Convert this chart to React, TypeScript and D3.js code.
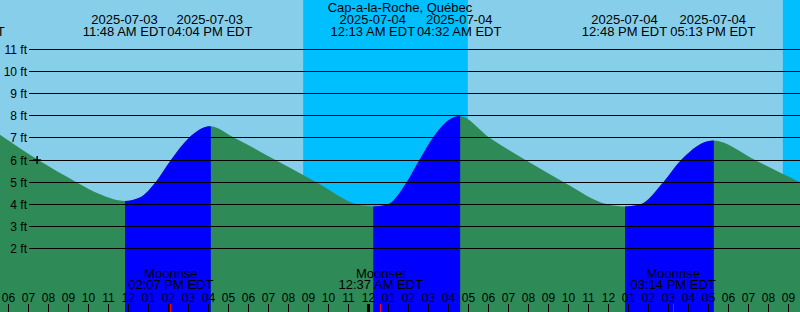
import React from 'react';
import * as d3 from 'd3';

const W = 800;
const H = 312;

const title = 'Cap-a-la-Roche, Québec';

// Tide high/low events
const tideEventDates = ['2025-07-03', '2025-07-03', '2025-07-03', '2025-07-04', '2025-07-04', '2025-07-04', '2025-07-04'];
const tideEventTimes = ['03:42 AM', '11:48 AM', '04:04 PM', '12:13 AM', '04:32 AM', '12:48 PM', '05:13 PM'];
const tideEventKinds = ['high', 'low', 'high', 'low', 'high', 'low', 'high'];

// Tide curve samples (hours since 2025-07-03 00:00 EDT, feet)
const curveHours = [5.575, 7.49, 9.4, 10.575, 11.8, 12.59, 13.355, 14.12, 15.015, 16.067, 17.31, 19.35, 21.39, 23.43, 24.217, 24.96, 25.905, 26.545, 27.21, 28.533, 30.065, 31.85, 33.765, 35.93, 36.8, 37.59, 38.74, 39.63, 41.217, 43.33, 44.72, 45.575];
const curveFeet = [7.15, 6.0, 5.0, 4.45, 4.15, 4.32, 5.0, 6.0, 7.0, 7.53, 7.0, 6.0, 5.0, 4.0, 3.9, 4.0, 5.0, 6.0, 7.0, 7.99, 7.0, 6.0, 5.0, 4.0, 3.9, 4.0, 5.0, 6.0, 6.88, 6.0, 5.37, 5.0];

// Current time marker
const nowDate = '2025-07-03';
const nowTime = '07:26 AM';
const nowFeet = 6.0;

// Moon events
const moonEventNames = ['Moonrise', 'Moonset', 'Moonrise'];
const moonEventDates = ['2025-07-03', '2025-07-04', '2025-07-04'];
const moonEventTimes = ['02:07 PM', '12:37 AM', '03:14 PM'];

// Night intervals (sunset -> sunrise)
const nightStartDates = ['2025-07-03', '2025-07-04'];
const nightStartTimes = ['08:44 PM', '08:43 PM'];
const nightEndDates = ['2025-07-04', '2025-07-05'];
const nightEndTimes = ['04:58 AM', '04:58 AM'];

const depthTicks = [2, 3, 4, 5, 6, 7, 8, 9, 10, 11];
const hourTicks = d3.range(6, 46);

const FONT = '"Liberation Sans", Arial, Helvetica, sans-serif';

function toHours(date: string, time: string): number {
  const day = +date.slice(8, 10) - 3;
  const [hm, ap] = time.split(' ');
  let [h, m] = hm.split(':').map(Number);
  if (ap === 'PM' && h !== 12) h += 12;
  if (ap === 'AM' && h === 12) h = 0;
  return day * 24 + h + m / 60;
}

function hourLabel(h: number): string {
  const hh = h % 12 === 0 ? 12 : h % 12;
  return String(hh).padStart(2, '0');
}

export default function App() {
  const x = d3.scaleLinear().domain([5.575, 45.575]).range([0, W]);
  const y = d3.scaleLinear().domain([-0.872, 13.239]).range([H, 0]);

  const pts: [number, number][] = curveHours.map((h, i) => [h, curveFeet[i]]);
  const area = d3
    .area<[number, number]>()
    .x((d) => x(d[0]))
    .y0(H)
    .y1((d) => y(d[1]))
    .curve(d3.curveMonotoneX);
  const areaPath = area(pts) || '';

  const events = tideEventDates.map((d, i) => ({
    date: d,
    time: tideEventTimes[i],
    kind: tideEventKinds[i],
    h: toHours(d, tideEventTimes[i]),
  }));

  const floods: { a: number; b: number }[] = [];
  for (let i = 0; i < events.length - 1; i++) {
    if (events[i].kind === 'low' && events[i + 1].kind === 'high') {
      floods.push({ a: events[i].h, b: events[i + 1].h });
    }
  }

  const nights = nightStartDates.map((d, i) => ({
    a: toHours(d, nightStartTimes[i]),
    b: toHours(nightEndDates[i], nightEndTimes[i]),
  }));

  const moons = moonEventNames.map((n, i) => ({
    name: n,
    time: moonEventTimes[i],
    h: toHours(moonEventDates[i], moonEventTimes[i]),
  }));

  const nowX = x(toHours(nowDate, nowTime));
  const nowY = y(nowFeet);

  return (
    <svg
      width={W}
      height={H}
      style={{ position: 'absolute', left: 0, top: 0, display: 'block' }}
      fontFamily={FONT}
    >
      <defs>
        {floods.map((f, i) => (
          <clipPath id={`flood${i}`} key={i}>
            <rect x={x(f.a) + 0.5} y={0} width={x(f.b) - x(f.a) + 0.5} height={H} />
          </clipPath>
        ))}
      </defs>
      <rect x={0} y={0} width={W} height={H} fill="#87CEEB" />
      {nights.map((n, i) => {
        const a = Math.max(0, x(n.a));
        const b = Math.min(W, x(n.b));
        return <rect key={i} x={a} y={0} width={Math.max(0, b - a)} height={H} fill="#00BFFF" />;
      })}
      <path d={areaPath} fill="#2E8B57" />
      {floods.map((f, i) => (
        <path key={i} d={areaPath} fill="#0000FF" clipPath={`url(#flood${i})`} />
      ))}
      {depthTicks.map((v) => {
        const yy = Math.floor(y(v)) + 0.5;
        return (
          <g key={v}>
            <line x1={29} x2={W} y1={yy} y2={yy} stroke="#000" strokeWidth={1} />
            <text x={27} y={yy} dy="0.36em" fontSize={12} textAnchor="end" fill="#000">
              {`${v} ft`}
            </text>
          </g>
        );
      })}
      {/* current time marker */}
      <line x1={nowX - 4} x2={nowX + 4} y1={nowY} y2={nowY} stroke="#000" strokeWidth={1.5} />
      <line x1={nowX} x2={nowX} y1={nowY - 4} y2={nowY + 4} stroke="#000" strokeWidth={1.5} />
      {/* header */}
      <text x={W / 2} y={12} fontSize={13} textAnchor="middle" fill="#000">
        {title}
      </text>
      {events.map((e, i) => (
        <g key={i}>
          <text x={x(e.h)} y={24} fontSize={13} textAnchor="middle" fill="#000">
            {e.date}
          </text>
          <text x={x(e.h)} y={36} fontSize={13} textAnchor="middle" fill="#000">
            {`${e.time} EDT`}
          </text>
        </g>
      ))}
      {/* moon labels */}
      {moons.map((m, i) => (
        <g key={i}>
          <text x={x(m.h)} y={278} fontSize={13} textAnchor="middle" fill="#000">
            {m.name}
          </text>
          <text x={x(m.h)} y={289} fontSize={13} textAnchor="middle" fill="#000">
            {`${m.time} EDT`}
          </text>
        </g>
      ))}
      {/* hour axis */}
      {hourTicks.map((h) => {
        const xx = Math.floor(x(h)) + 0.5;
        const midnight = h % 24 === 0;
        return (
          <g key={h}>
            <line
              x1={xx}
              x2={xx}
              y1={304}
              y2={H}
              stroke="#000"
              strokeWidth={midnight ? 3 : 1}
            />
            <text x={x(h)} y={301.5} fontSize={12} textAnchor="middle" fill="#000">
              {hourLabel(h)}
            </text>
          </g>
        );
      })}
      {moons.map((m, i) => {
        const xx = Math.floor(x(m.h)) + 0.5;
        return <line key={i} x1={xx} x2={xx} y1={304} y2={H} stroke="#FF0000" strokeWidth={1} />;
      })}
    </svg>
  );
}
